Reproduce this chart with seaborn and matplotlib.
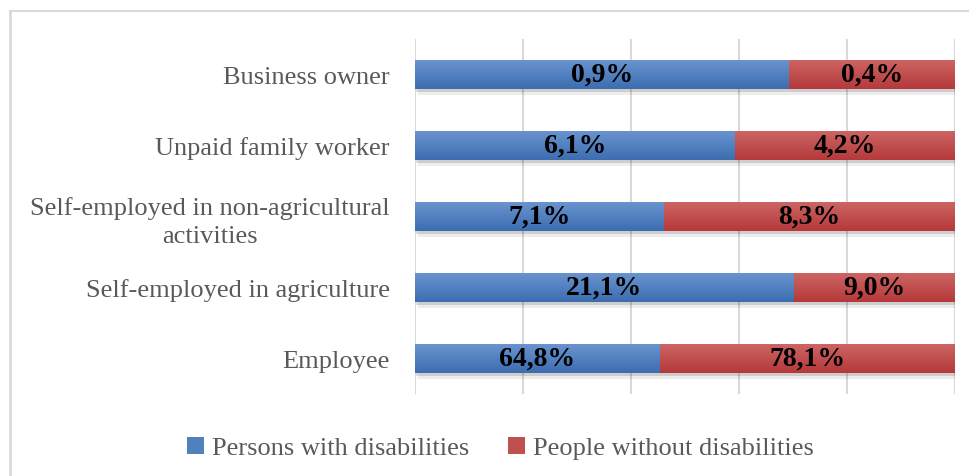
import matplotlib
matplotlib.use("Agg")
import matplotlib.pyplot as plt
import matplotlib.patheffects as pe
from matplotlib.colors import LinearSegmentedColormap
from matplotlib.lines import Line2D
from matplotlib.patches import Patch
import numpy as np
import pandas as pd
import seaborn as sns

# Employment status shares (%)
categories = [
    "Business owner",
    "Unpaid family worker",
    "Self-employed in non-agricultural\nactivities",
    "Self-employed in agriculture",
    "Employee",
]
with_disabilities = [0.9, 6.1, 7.1, 21.1, 64.8]
without_disabilities = [0.4, 4.2, 8.3, 9.0, 78.1]
series_names = ["Persons with disabilities", "People without disabilities"]

BLUE = "#4f81bd"
RED = "#c0504d"
BLUE_GRAD = ("#6b95d0", "#3c6db0")
RED_GRAD = ("#cd6665", "#b5393a")
GRID = "#d9d9d9"
TEXT = "#595959"

# 100% stacked: each bar is split by the ratio of the two values
df = pd.DataFrame({
    "category": categories,
    "pwd": with_disabilities,
    "pwod": without_disabilities,
})
df["total"] = 100.0
df["pwd_share"] = df["pwd"] / (df["pwd"] + df["pwod"]) * 100

sns.set_theme(style="white")
plt.rcParams["font.family"] = ["Liberation Serif", "DejaVu Serif"]

fig = plt.figure(figsize=(9.70, 4.77), dpi=100)
ax = fig.add_axes([415 / 970, 1 - 395 / 477, 540 / 970, 355 / 477])

sns.barplot(data=df, x="total", y="category", order=categories, color=RED,
            saturation=1, width=0.42, orient="h", ax=ax, linewidth=0)
n_red = len(ax.patches)
sns.barplot(data=df, x="pwd_share", y="category", order=categories, color=BLUE,
            saturation=1, width=0.42, orient="h", ax=ax, linewidth=0)

ax.set_xlim(0, 100)
ax.set_ylim(4.5, -0.5)

# Soft drop shadow under each full-length bar
shadow = [
    pe.SimplePatchShadow(offset=(2, -4), shadow_rgbFace="#000000", alpha=0.07),
    pe.SimplePatchShadow(offset=(1, -2), shadow_rgbFace="#000000", alpha=0.13),
    pe.Normal(),
]
grad = np.linspace(0, 1, 64).reshape(-1, 1)
for k, p in enumerate(ax.patches):
    is_red = k < n_red
    if is_red:
        p.set_path_effects(shadow)
    top, bottom = RED_GRAD if is_red else BLUE_GRAD
    cmap = LinearSegmentedColormap.from_list("g", [top, bottom])
    x0, y0 = p.get_x(), p.get_y()
    w, h = p.get_width(), p.get_height()
    im = ax.imshow(grad, cmap=cmap, aspect="auto", interpolation="bilinear",
                   extent=(x0, x0 + w, y0 + h, y0), origin="upper",
                   zorder=p.get_zorder() + 0.01 * (k + 1))
    im.set_clip_path(p)

ax.set_xlim(0, 100)
ax.set_ylim(4.5, -0.5)

# Value labels centred on each segment
for i, row in df.iterrows():
    ax.text(row["pwd_share"] / 2, i, f"{row['pwd']:.1f}%".replace(".", ","),
            ha="center", va="center", fontsize=20, fontweight="bold", color="black",
            zorder=5)
    ax.text(row["pwd_share"] + (100 - row["pwd_share"]) / 2, i,
            f"{row['pwod']:.1f}%".replace(".", ","),
            ha="center", va="center", fontsize=20, fontweight="bold", color="black",
            zorder=5)

ax.set_xticks([0, 20, 40, 60, 80, 100])
ax.set_xticklabels([])
ax.xaxis.grid(True, color=GRID, linewidth=1.5)
ax.set_axisbelow(True)
ax.set_xlabel("")
ax.set_ylabel("")
for s in ax.spines.values():
    s.set_visible(False)
ax.tick_params(axis="y", length=0, pad=18, labelsize=19, labelcolor=TEXT)
ax.tick_params(axis="x", length=0)
for lbl in ax.get_yticklabels():
    lbl.set_multialignment("center")
    lbl.set_linespacing(1.3)

handles = [Patch(facecolor=BLUE, edgecolor="none"), Patch(facecolor=RED, edgecolor="none")]
fig.legend(handles, series_names, loc="center", bbox_to_anchor=(0.516, 1 - 449 / 477),
           ncol=2, frameon=False, fontsize=19, labelcolor=TEXT,
           handlelength=0.62, handleheight=0.62, handletextpad=0.3, columnspacing=1.5)

# Chart-area frame
fig.add_artist(Line2D([10 / 970, 1], [1 - 12 / 477] * 2, color=GRID, lw=1.5))
fig.add_artist(Line2D([10 / 970] * 2, [0, 1 - 12 / 477], color=GRID, lw=2))

fig.savefig("out.png", dpi=100, facecolor="white")
